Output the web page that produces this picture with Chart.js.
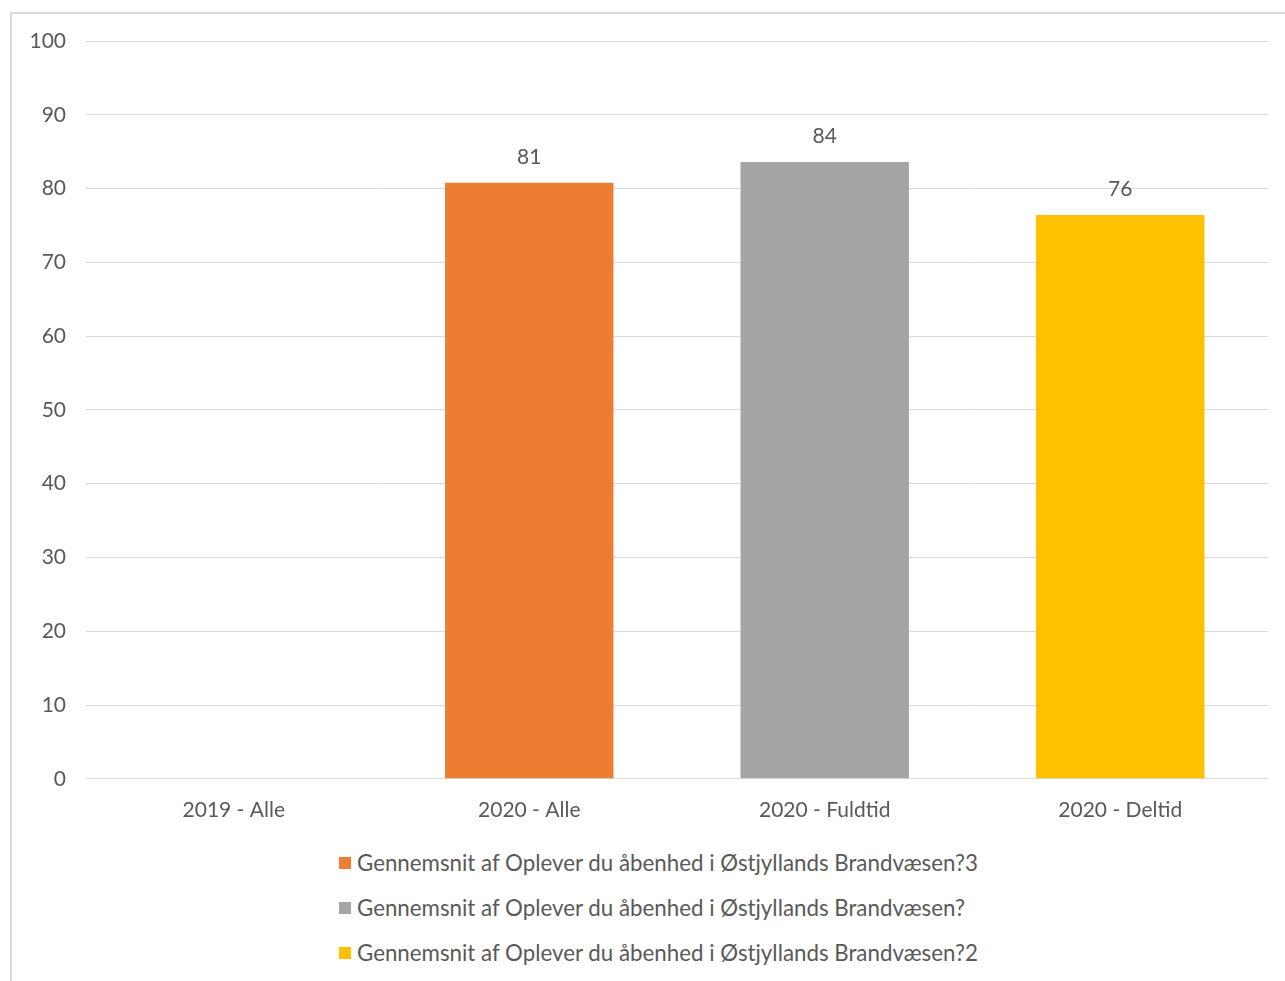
<!DOCTYPE html>
<html>
<head>
<meta charset="utf-8">
<script src="https://cdn.jsdelivr.net/npm/chart.js@4.4.1/dist/chart.umd.min.js"></script>
<style>
    body { margin: 0; background: #fff; overflow: hidden; font-family: Lato, "Open Sans", sans-serif; }
    .frame { position: absolute; left: 10px; top: 12px; width: 1300px; height: 1000px; border: 2px solid #d9d9d9; box-sizing: border-box; }
    .wrap { position: absolute; left: 0; top: 0; width: 1285px; height: 840px; }
    #legend { position: absolute; left: 339px; top: 840px; color: #595959; font-size: 22.3px; }
    #legend .item { height: 45px; display: flex; align-items: center; white-space: nowrap; }
    #legend .box { width: 12px; height: 12px; margin-right: 6px; flex: none; }
</style>
</head>
<body>
<div class="frame"></div>
<div class="wrap"><canvas id="chart"></canvas></div>
<div id="legend"></div>
<script>
const categories = ['2019 - Alle', '2020 - Alle', '2020 - Fuldtid', '2020 - Deltid'];
const seriesNames = [
    'Gennemsnit af Oplever du åbenhed i Østjyllands Brandvæsen?3',
    'Gennemsnit af Oplever du åbenhed i Østjyllands Brandvæsen?',
    'Gennemsnit af Oplever du åbenhed i Østjyllands Brandvæsen?2'
];
const seriesColors = ['#ED7D31', '#A5A5A5', '#FFC000'];
const alleValues = [null, 80.8, null, null];
const fuldtidValues = [null, null, 83.6, null];
const deltidValues = [null, null, null, 76.4];
const yTicks = [0, 10, 20, 30, 40, 50, 60, 70, 80, 90, 100];

const textColor = '#595959';
const fontFamily = 'Lato, "Open Sans", sans-serif';

// data labels above bars
const valueLabels = {
    id: 'valueLabels',
    afterDatasetsDraw(chart) {
        const ctx = chart.ctx;
        ctx.save();
        ctx.font = '21px ' + fontFamily;
        ctx.fillStyle = textColor;
        ctx.textAlign = 'center';
        ctx.textBaseline = 'alphabetic';
        chart.data.datasets.forEach((ds, i) => {
            chart.getDatasetMeta(i).data.forEach((bar, j) => {
                const v = ds.data[j];
                if (v === null) return;
                ctx.fillText(Math.round(v), bar.x, bar.y - 19);
            });
        });
        ctx.restore();
    }
};

const chart = new Chart(document.getElementById('chart'), {
    type: 'bar',
    data: {
        labels: categories,
        datasets: [
            { label: seriesNames[0], data: alleValues, backgroundColor: seriesColors[0] },
            { label: seriesNames[1], data: fuldtidValues, backgroundColor: seriesColors[1] },
            { label: seriesNames[2], data: deltidValues, backgroundColor: seriesColors[2] }
        ]
    },
    options: {
        responsive: true,
        maintainAspectRatio: false,
        animation: false,
        datasets: { bar: { categoryPercentage: 0.57, barPercentage: 1 } },
        layout: { padding: { left: 0, right: 17, top: 41, bottom: 6 } },
        plugins: {
            tooltip: { enabled: false },
            legend: { display: false }
        },
        scales: {
            x: {
                stacked: true,
                grid: { display: false },
                border: { display: false },
                ticks: { color: textColor, font: { family: fontFamily, size: 21 }, padding: 11 }
            },
            y: {
                stacked: true,
                min: 0,
                max: 100,
                afterBuildTicks: scale => { scale.ticks = yTicks.map(v => ({ value: v })); },
                afterFit: scale => { scale.width = 86; },
                grid: { color: '#d9d9d9', lineWidth: 1, drawTicks: false },
                border: { display: false },
                ticks: { color: textColor, font: { family: fontFamily, size: 21 }, padding: 20 }
            }
        }
    },
    plugins: [valueLabels]
});

// html legend, one row per series
const legendEl = document.getElementById('legend');
chart.data.datasets.forEach(ds => {
    const row = document.createElement('div');
    row.className = 'item';
    row.innerHTML = `<span class="box" style="background:${ds.backgroundColor}"></span><span>${ds.label}</span>`;
    legendEl.appendChild(row);
});
</script>
</body>
</html>
